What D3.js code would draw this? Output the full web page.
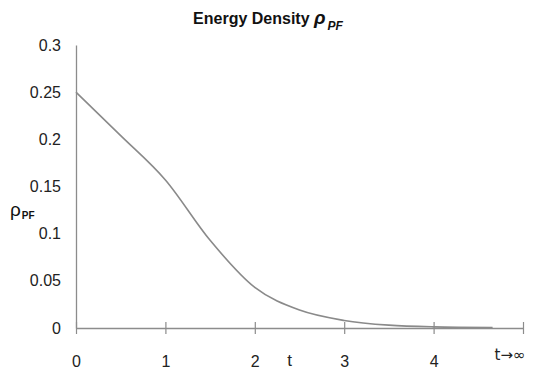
<!DOCTYPE html>
<html>
<head>
<meta charset="utf-8">
<script src="https://cdn.jsdelivr.net/npm/d3@7"></script>
<style>
  body { margin: 0; background: #fff; }
  text { font-family: "Liberation Sans", Arial, sans-serif; }
</style>
</head>
<body>
<div id="chart"></div>
<script>
// curve values
var tVals = [0, 0.5, 1, 1.5, 2, 2.5, 3, 3.5, 4, 4.66];
var rhoVals = [0.25, 0.204, 0.157, 0.093, 0.043, 0.019, 0.008, 0.003, 0.0012, 0.0005];
var xTicks = [0, 1, 2, 3, 4, 5];
var xTickLabels = ["0", "1", "2", "3", "4", "t\u2192\u221e"];
var yTicks = [0, 0.05, 0.1, 0.15, 0.2, 0.25, 0.3];

var W = 533, H = 374;
var margin = {top: 45, right: 10, bottom: 46, left: 76},
    width = 523 - margin.left,
    height = H - margin.top - margin.bottom;

var svg = d3.select("#chart")
  .append("svg")
    .attr("width", W)
    .attr("height", H)
  .append("g")
    .attr("transform", "translate(" + margin.left + "," + margin.top + ")");

var x = d3.scaleLinear().domain([0, 5]).range([0, width]);
var y = d3.scaleLinear().domain([0, 0.3]).range([height, 0]);

var axisColor = "#8c8c8c";

// Y axis: line only, labels on the left
var yAxis = svg.append("g")
  .call(d3.axisLeft(y).tickValues(yTicks).tickSize(0).tickPadding(15)
    .tickFormat(function (d) { return d3.format("")(+d.toFixed(2)); }));
yAxis.select(".domain").attr("stroke", axisColor).attr("stroke-width", 1.3);
yAxis.selectAll("text").attr("font-size", 16).attr("fill", "#222");

// X axis: ticks cross the line
var xAxis = svg.append("g")
  .attr("transform", "translate(0," + height + ")")
  .call(d3.axisBottom(x).tickValues(xTicks).tickSize(6).tickSizeOuter(0)
    .tickFormat(function (d, i) { return xTickLabels[i]; }));
xAxis.select(".domain").attr("stroke", axisColor).attr("stroke-width", 1.3);
xAxis.selectAll(".tick line")
  .attr("y1", -6).attr("y2", 6)
  .attr("stroke", axisColor).attr("stroke-width", 1.2);
xAxis.selectAll("text")
  .attr("y", 28)
  .attr("font-size", 16).attr("fill", "#222");
xAxis.selectAll(".tick text")
  .filter(function (d) { return d === 5; })
  .attr("text-anchor", "end").attr("x", 2).attr("y", 21)
  .style("font-family", "'DejaVu Sans', sans-serif")
  .attr("font-size", 15);

// "t" label between 2 and 3
svg.append("text")
  .attr("x", x(2.39))
  .attr("y", height + 38)
  .attr("text-anchor", "middle")
  .attr("font-size", 17)
  .attr("fill", "#222")
  .text("t");

// curve
var line = d3.line()
  .x(function (d, i) { return x(tVals[i]); })
  .y(function (d) { return y(d); })
  .curve(d3.curveMonotoneX);

svg.append("path")
  .datum(rhoVals)
  .attr("fill", "none")
  .attr("stroke", "#8a8a8a")
  .attr("stroke-width", 1.6)
  .attr("d", line);

// title
var title = d3.select("svg").append("text")
  .attr("x", 268)
  .attr("y", 24)
  .attr("text-anchor", "middle")
  .attr("font-size", 16)
  .attr("font-weight", "bold")
  .attr("fill", "#111");
title.append("tspan").text("Energy Density ");
title.append("tspan").attr("font-style", "italic").attr("font-size", 19).text("\u03c1");
title.append("tspan").attr("dy", 6).attr("dx", 2).attr("font-style", "italic").attr("font-size", 12).text("PF");

// y label
var ylab = d3.select("svg").append("text")
  .attr("x", 10)
  .attr("y", 216)
  .attr("font-size", 19)
  .attr("fill", "#111");
ylab.append("tspan").text("\u03c1");
ylab.append("tspan").attr("dy", 3).attr("dx", 1).attr("font-size", 10).attr("font-weight", "bold").text("PF");
</script>
</body>
</html>
